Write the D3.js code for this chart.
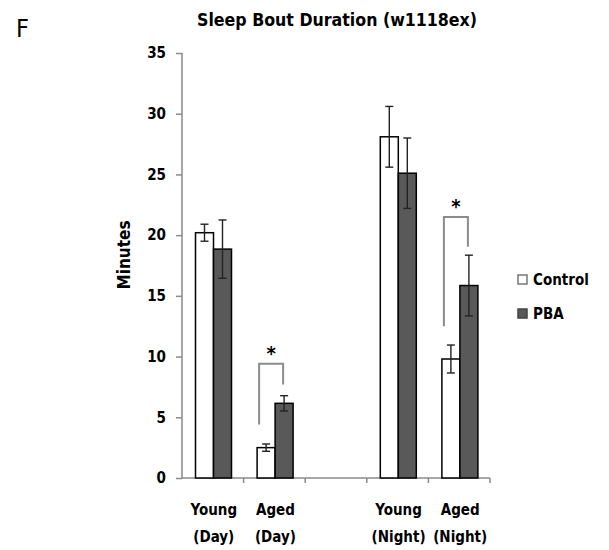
<!DOCTYPE html>
<html>
<head>
<meta charset="utf-8">
<script src="https://cdn.jsdelivr.net/npm/d3@7"></script>
<style>
  body { margin: 0; background: #fff; }
  text { font-family: "DejaVu Sans Condensed", "DejaVu Sans", sans-serif; }
</style>
</head>
<body>
<div id="chart"></div>
<script>
// Data
var categories = ["Young|(Day)", "Aged|(Day)", "", "Young|(Night)", "Aged|(Night)"];
var groups = ["Control", "PBA"];
var controlMeans = [20.2, 2.5, null, 28.1, 9.8];
var controlErr   = [0.7, 0.3, null, 2.5, 1.15];
var pbaMeans     = [18.85, 6.15, null, 25.1, 15.85];
var pbaErr       = [2.4, 0.63, null, 2.9, 2.5];
var yTicks = [0, 5, 10, 15, 20, 25, 30, 35];
// significance brackets: category, top value, left drop end, right drop end
var brackets = [
  {cat: "Aged|(Day)", top: 9.4, left: 4.4, right: 7.7},
  {cat: "Aged|(Night)", top: 21.5, left: 12.5, right: 19.05}
];

var width = 609, height = 550;

var svg = d3.select("#chart")
  .append("svg")
  .attr("width", width)
  .attr("height", height);

var x = d3.scaleBand()
  .domain(categories)
  .range([182, 490]);

// bars inside each category
var xSub = d3.scaleBand()
  .domain(groups)
  .range([13.5, 49.5]);

var y = d3.scaleLinear()
  .domain([0, 35])
  .range([478, 53]);

var rows = [];
categories.forEach(function(c, i) {
  if (controlMeans[i] == null) return;
  rows.push({cat: c, group: "Control", v: controlMeans[i], e: controlErr[i]});
  rows.push({cat: c, group: "PBA", v: pbaMeans[i], e: pbaErr[i]});
});

var fills = {Control: "#ffffff", PBA: "#595959"};
var axisColor = "#8a8a8a";

// Title and panel letter
svg.append("text")
  .attr("x", 337)
  .attr("y", 26)
  .attr("text-anchor", "middle")
  .attr("font-size", 18)
  .attr("font-weight", "bold")
  .attr("textLength", 280)
  .attr("lengthAdjust", "spacingAndGlyphs")
  .text("Sleep Bout Duration (w1118ex)");

svg.append("text")
  .attr("x", 16)
  .attr("y", 37)
  .attr("font-size", 25)
  .style("font-family", "'Liberation Sans Narrow', 'DejaVu Sans Condensed', sans-serif")
  .text("F");

// Y axis
var yAxis = svg.append("g")
  .attr("transform", "translate(182,0)")
  .call(d3.axisLeft(y).tickValues(yTicks).tickSize(6).tickPadding(10));
yAxis.selectAll("line, path").attr("stroke", axisColor).attr("stroke-width", 1.5);
yAxis.select(".domain").attr("d", "M0," + y(35) + "V" + y(0));
yAxis.selectAll("text")
  .attr("font-size", 15)
  .attr("font-weight", "bold")
  .attr("fill", "#000")
  .style("font-family", "'DejaVu Sans Condensed', 'DejaVu Sans', sans-serif");

svg.append("text")
  .attr("transform", "translate(130,255) rotate(-90)")
  .attr("text-anchor", "middle")
  .attr("font-size", 17)
  .attr("font-weight", "bold")
  .text("Minutes");

// X axis
var xAxis = svg.append("g")
  .attr("transform", "translate(0," + y(0) + ")");
xAxis.append("line")
  .attr("x1", 182).attr("x2", 490)
  .attr("stroke", axisColor).attr("stroke-width", 1.5);
xAxis.selectAll(".tk")
  .data(categories)
  .enter()
  .append("line")
  .attr("x1", function(d) { return x(d) + x.bandwidth(); })
  .attr("x2", function(d) { return x(d) + x.bandwidth(); })
  .attr("y1", 0).attr("y2", 5)
  .attr("stroke", axisColor).attr("stroke-width", 1.5);

var labels = xAxis.selectAll(".cat")
  .data(categories.filter(function(d) { return d !== ""; }))
  .enter()
  .append("text")
  .attr("text-anchor", "middle")
  .attr("font-size", 15)
  .attr("font-weight", "bold")
  .attr("x", function(d) { return x(d) + x.bandwidth() / 2 + 1; });
labels.append("tspan")
  .attr("x", function(d) { return x(d) + x.bandwidth() / 2 + 1; })
  .attr("y", 37)
  .text(function(d) { return d.split("|")[0]; });
labels.append("tspan")
  .attr("x", function(d) { return x(d) + x.bandwidth() / 2 + 1; })
  .attr("y", 64)
  .text(function(d) { return d.split("|")[1]; });

// Bars
svg.selectAll(".bar")
  .data(rows)
  .enter()
  .append("rect")
  .attr("class", "bar")
  .attr("x", function(d) { return x(d.cat) + xSub(d.group); })
  .attr("width", xSub.bandwidth())
  .attr("y", function(d) { return y(d.v); })
  .attr("height", function(d) { return y(0) - y(d.v); })
  .attr("fill", function(d) { return fills[d.group]; })
  .attr("stroke", "#000")
  .attr("stroke-width", 1.5);

// Error bars
var eb = svg.selectAll(".err")
  .data(rows)
  .enter()
  .append("g")
  .attr("class", "err")
  .attr("stroke", "#222")
  .attr("stroke-width", 1.4);
function cx(d) { return x(d.cat) + xSub(d.group) + xSub.bandwidth() / 2; }
eb.append("line")
  .attr("x1", cx).attr("x2", cx)
  .attr("y1", function(d) { return y(d.v + d.e); })
  .attr("y2", function(d) { return y(d.v - d.e); });
eb.append("line")
  .attr("x1", function(d) { return cx(d) - 4; })
  .attr("x2", function(d) { return cx(d) + 4; })
  .attr("y1", function(d) { return y(d.v + d.e); })
  .attr("y2", function(d) { return y(d.v + d.e); });
eb.append("line")
  .attr("x1", function(d) { return cx(d) - 4; })
  .attr("x2", function(d) { return cx(d) + 4; })
  .attr("y1", function(d) { return y(d.v - d.e); })
  .attr("y2", function(d) { return y(d.v - d.e); });

// Significance brackets
brackets.forEach(function(b) {
  var x1 = x(b.cat) + xSub("Control") + 2;
  var x2 = x(b.cat) + xSub("PBA") + xSub.bandwidth() / 2 - 1;
  svg.append("path")
    .attr("d", "M" + x1 + "," + y(b.left) + "V" + y(b.top) + "H" + x2 + "V" + y(b.right))
    .attr("fill", "none")
    .attr("stroke", "#8c8c8c")
    .attr("stroke-width", 2);
  svg.append("text")
    .attr("x", (x1 + x2) / 2)
    .attr("y", y(b.top) - 4)
    .attr("text-anchor", "middle")
    .attr("font-size", 20)
    .attr("font-weight", "bold")
    .text("*");
});

// Legend
var legend = svg.append("g")
  .attr("transform", "translate(518,275)");
var li = legend.selectAll(".li")
  .data(groups)
  .enter()
  .append("g")
  .attr("transform", function(d, i) { return "translate(0," + i * 34 + ")"; });
li.append("rect")
  .attr("width", 9).attr("height", 9)
  .attr("fill", function(d) { return fills[d]; })
  .attr("stroke", function(d) { return d === "Control" ? "#777" : "#444"; })
  .attr("stroke-width", 1.5);
li.append("text")
  .attr("x", 15)
  .attr("y", 10)
  .attr("font-size", 15)
  .attr("font-weight", "bold")
  .text(function(d) { return d; });
</script>
</body>
</html>
